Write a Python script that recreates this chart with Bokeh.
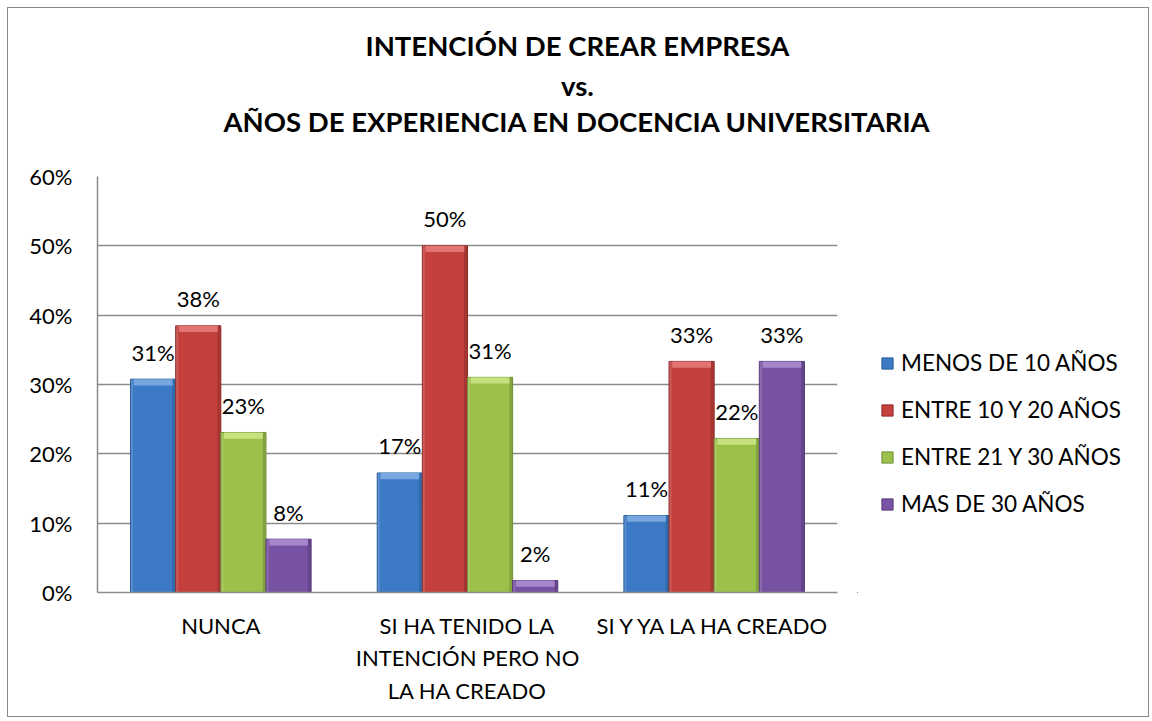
from bokeh.plotting import figure
from bokeh.layouts import column, row
from bokeh.models import ColumnDataSource, FactorRange, Legend, LegendItem, NumeralTickFormatter, FixedTicker
from bokeh.transform import dodge
from bokeh.core.properties import value
from bokeh.embed import file_html
from bokeh.resources import INLINE

# ---------------- data ----------------
categories = ["NUNCA", "SI HA TENIDO LA\nINTENCIÓN PERO NO\nLA HA CREADO", "SI Y YA LA HA CREADO"]
series_names = ["MENOS DE 10 AÑOS", "ENTRE 10 Y 20 AÑOS", "ENTRE 21 Y 30 AÑOS", "MAS DE 30 AÑOS"]
menos_10 = [0.3077, 0.1724, 0.1111]
entre_10_20 = [0.3846, 0.5000, 0.3333]
entre_21_30 = [0.2308, 0.3103, 0.2222]
mas_30 = [0.0769, 0.0172, 0.3333]
y_ticks = [0.0, 0.1, 0.2, 0.3, 0.4, 0.5, 0.6]
title_lines = ["INTENCIÓN DE CREAR EMPRESA", "vs.", "AÑOS DE EXPERIENCIA EN DOCENCIA UNIVERSITARIA"]

series_values = [menos_10, entre_10_20, entre_21_30, mas_30]
fills = ["#3C7AC6", "#C3403D", "#9CC14B", "#7953A3"]
edges = ["#2B5C98", "#8E2C2A", "#6F8E36", "#553A7A"]
tops = ["#78A7DF", "#E27572", "#C6E27E", "#A687CB"]

FONT = "Lato"


def blank_fig(w, h):
    f = figure(width=w, height=h, x_range=(0, w), y_range=(0, h), output_backend="svg",
               toolbar_location=None, x_axis_type=None, y_axis_type=None,
               min_border=0, min_border_left=0, min_border_right=0, min_border_top=0, min_border_bottom=0,
               background_fill_color="white", border_fill_color="white")
    f.outline_line_color = None
    return f


# ---------------- title ----------------
tf = blank_fig(1140, 148)
tf.text(x=[569, 569, 569], y=[111, 71, 35], text=title_lines,
        text_align="center", text_baseline="alphabetic",
        text_font=value(FONT), text_font_style="bold", text_font_size="27.5px", text_color="black")

# ---------------- main chart ----------------
p = figure(x_range=FactorRange(*categories), y_range=(0, 0.6),
           width=849, height=560, output_backend="svg", toolbar_location=None,
           min_border_left=89, min_border_right=20, min_border_top=20, min_border_bottom=124,
           background_fill_color="white", border_fill_color="white")
p.outline_line_color = None
p.xgrid.grid_line_color = None
p.ygrid.grid_line_color = "#8c8c8c"
p.ygrid.grid_line_width = 1.5

p.yaxis.ticker = FixedTicker(ticks=y_ticks)
p.yaxis.formatter = NumeralTickFormatter(format="0%")
for ax in (p.xaxis, p.yaxis):
    ax.axis_line_color = "#8c8c8c"
    ax.axis_line_width = 1.5
    ax.major_tick_line_color = None
    ax.minor_tick_line_color = None
    ax.major_label_text_font = FONT
    ax.major_label_text_color = "black"
p.yaxis.major_label_text_font_size = "22px"
p.yaxis.major_label_standoff = 19
p.xaxis.major_label_text_font_size = "22px"
p.xaxis.major_label_standoff = 13
p.xaxis.major_label_text_line_height = 1.22

bw = 0.183
offsets = [-1.5 * bw, -0.5 * bw, 0.5 * bw, 1.5 * bw]
for i, vals in enumerate(series_values):
    src = ColumnDataSource(dict(
        x=categories,
        top=vals,
        band=[v - 0.009 for v in vals],
        label=[f"{round(v * 100)}%" for v in vals],
    ))
    off = offsets[i]
    p.vbar(x=dodge("x", off, range=p.x_range), top="top", bottom=0, width=bw, source=src,
           fill_color=fills[i], line_color=edges[i], line_width=1)
    p.vbar(x=dodge("x", off + bw / 2 - 0.008, range=p.x_range), top="top", bottom=0, width=0.012,
           source=src, fill_color=edges[i], fill_alpha=0.55, line_color=None)
    p.vbar(x=dodge("x", off - bw / 2 + 0.006, range=p.x_range), top="top", bottom=0, width=0.008,
           source=src, fill_color="white", fill_alpha=0.15, line_color=None)
    p.vbar(x=dodge("x", off, range=p.x_range), top="top", bottom="band", width=bw * 0.86,
           source=src, fill_color=tops[i], line_color=None)
    p.text(x=dodge("x", off, range=p.x_range), y="top", text="label", source=src,
           text_align="center", text_baseline="alphabetic", y_offset=-27,
           text_font=value(FONT), text_font_size="22px", text_color="black")

# ---------------- legend ----------------
lf = blank_fig(291, 560)
items = []
for i, name in enumerate(series_names):
    # swatch renderer kept outside the visible range; only its legend glyph is shown
    r = lf.vbar(x=[-1000], top=[-1000], bottom=[-1001], width=1,
                fill_color=fills[i], line_color=edges[i], line_width=1)
    items.append(LegendItem(label=name, renderers=[r]))
legend = Legend(items=items, location=(23, 75), orientation="vertical",
                glyph_width=14, glyph_height=14, label_standoff=7, spacing=20, label_height=26,
                padding=0, margin=0, border_line_color=None, background_fill_alpha=0,
                label_text_font=FONT, label_text_font_size="22.5px", label_text_color="black")
lf.add_layout(legend)

layout = column(tf, row(p, lf, spacing=0), spacing=0)
layout.styles = {"margin-left": "8px", "margin-top": "8px", "outline": "1.5px solid #8a8a8a"}

open("out.html", "w").write(file_html(layout, INLINE))
